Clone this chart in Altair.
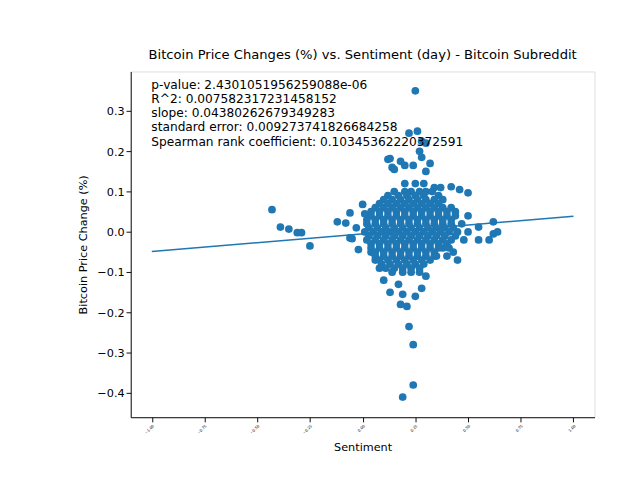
import altair as alt
import pandas as pd

# outlying points (sentiment, price change)
outer_x = [-0.43, -0.39, -0.35, -0.31, -0.29, -0.25, -0.12, -0.08, -0.06, -0.06, -0.05, -0.03, -0.02, 0.0, 0.01,
           0.12, 0.13, 0.14, 0.15, 0.18, 0.2, 0.22, 0.25, 0.26, 0.27, 0.28, 0.3, 0.28, 0.32, 0.3, 0.24,
           0.34, 0.37, 0.42, 0.46, 0.5, 0.44, 0.5, 0.55, 0.6, 0.62, 0.62, 0.64, 0.55, 0.45, 0.43, 0.4,
           0.13, 0.17, 0.19, 0.18, 0.21, 0.22, 0.24, 0.24, 0.19, 0.25, 0.28, 0.3, 0.1, 0.08, 0.06, 0.04, 0.35, 0.38]
outer_y = [0.055, 0.012, 0.007, -0.002, -0.002, -0.035, 0.025, 0.022, 0.047, -0.015, -0.017, 0.010, -0.044, 0.068, 0.045,
           0.18, 0.182, 0.16, 0.155, 0.175, 0.165, 0.245, 0.35, 0.25, 0.2, 0.225, 0.22, 0.185, 0.17, 0.15, 0.165,
           0.11, 0.11, 0.112, 0.105, 0.097, 0.05, 0.04, 0.012, -0.02, 0.025, -0.005, 0.0, -0.02, -0.07, -0.05, -0.06,
           -0.15, -0.13, -0.155, -0.18, -0.185, -0.235, -0.28, -0.38, -0.41, -0.16, -0.14, -0.11, -0.12, -0.09, -0.07, -0.05, -0.06, -0.04]

# dense core, row by row
core_rows = {
    0.12: [0.2, 0.25, 0.29],
    0.10: [0.15, 0.2, 0.23, 0.27, 0.3, 0.33],
    0.09: [0.12, 0.17, 0.21, 0.25, 0.29, 0.36],
    0.08: [0.1, 0.14, 0.18, 0.22, 0.26, 0.3, 0.34, 0.38],
    0.07: [0.08, 0.12, 0.16, 0.2, 0.24, 0.28, 0.32, 0.36],
    0.06: [0.06, 0.1, 0.14, 0.18, 0.22, 0.26, 0.3, 0.34, 0.38, 0.42],
    0.05: [0.04, 0.08, 0.12, 0.16, 0.2, 0.24, 0.28, 0.32, 0.36, 0.4],
    0.04: [0.04, 0.08, 0.12, 0.16, 0.2, 0.24, 0.28, 0.32, 0.36, 0.4, 0.44],
    0.03: [0.02, 0.06, 0.1, 0.14, 0.18, 0.22, 0.26, 0.3, 0.34, 0.38, 0.42],
    0.02: [0.02, 0.06, 0.1, 0.14, 0.18, 0.22, 0.26, 0.3, 0.34, 0.38, 0.42, 0.47],
    0.01: [0.03, 0.07, 0.11, 0.15, 0.19, 0.23, 0.27, 0.31, 0.35, 0.39, 0.43],
    0.00: [0.01, 0.05, 0.09, 0.13, 0.17, 0.21, 0.25, 0.29, 0.33, 0.37, 0.41, 0.45, 0.5],
    -0.01: [0.03, 0.07, 0.11, 0.15, 0.19, 0.23, 0.27, 0.31, 0.35, 0.39, 0.44],
    -0.02: [0.02, 0.06, 0.1, 0.14, 0.18, 0.22, 0.26, 0.3, 0.34, 0.38, 0.42, 0.48],
    -0.03: [0.04, 0.08, 0.12, 0.16, 0.2, 0.24, 0.28, 0.32, 0.36, 0.4],
    -0.04: [0.04, 0.08, 0.12, 0.16, 0.2, 0.24, 0.28, 0.32, 0.36, 0.41],
    -0.05: [0.06, 0.1, 0.14, 0.18, 0.22, 0.26, 0.3, 0.34],
    -0.06: [0.06, 0.1, 0.14, 0.18, 0.22, 0.26, 0.3, 0.34],
    -0.07: [0.08, 0.12, 0.16, 0.2, 0.24, 0.28, 0.32],
    -0.08: [0.09, 0.13, 0.17, 0.21, 0.25, 0.29],
    -0.09: [0.11, 0.15, 0.19, 0.23, 0.27],
    -0.10: [0.14, 0.19, 0.23, 0.27],
}

line_x = [-1.0, 1.0]
line_y = [-0.0488, 0.0388]

stats = [
    "p-value: 2.4301051956259088e-06",
    "R^2: 0.007582317231458152",
    "slope: 0.04380262679349283",
    "standard error: 0.009273741826684258",
    "Spearman rank coefficient: 0.10345362220372591",
]

xs = list(outer_x)
ys = list(outer_y)
for yv, row in core_rows.items():
    xs += row
    ys += [yv] * len(row)
pts = pd.DataFrame({"sentiment": xs, "change": ys})
fit = pd.DataFrame({"sentiment": line_x, "change": line_y})
txt = pd.DataFrame({"t": stats, "py": [15 + 15 * i for i in range(len(stats))]})

xsc = alt.Scale(domain=[-1.1, 1.1], nice=False, zero=False)
ysc = alt.Scale(domain=[-0.46, 0.398], nice=False, zero=False)
xax = alt.Axis(values=[-1.0, -0.75, -0.5, -0.25, 0.0, 0.25, 0.5, 0.75, 1.0], format=".2f", labelAngle=-45,
               labelFontSize=4, grid=False, titleFontSize=12, titleFontWeight="normal", tickColor="black",
               domainColor="black", labelColor="black", titlePadding=8)
yax = alt.Axis(values=[-0.4, -0.3, -0.2, -0.1, 0.0, 0.1, 0.2, 0.3], format=".1f", grid=False, labelFontSize=12,
               titleFontSize=12, titleFontWeight="normal", tickColor="black", domainColor="black",
               labelColor="black", titlePadding=8)

scatter = alt.Chart(pts).mark_circle(size=68, opacity=1, color="#1f77b4").encode(
    x=alt.X("sentiment:Q", scale=xsc, axis=xax, title="Sentiment"),
    y=alt.Y("change:Q", scale=ysc, axis=yax, title="Bitcoin Price Change (%)"),
)
line = alt.Chart(fit).mark_line(color="#1f77b4", strokeWidth=1.5).encode(
    x=alt.X("sentiment:Q", scale=xsc), y=alt.Y("change:Q", scale=ysc)
)
text = alt.Chart(txt).mark_text(align="left", baseline="middle", fontSize=13, color="black").encode(
    x=alt.value(22), y=alt.Y("py:Q", scale=None), text="t:N"
)

chart = (scatter + line + text).properties(
    width=495, height=369,
    title=alt.Title("Bitcoin Price Changes (%) vs. Sentiment (day) - Bitcoin Subreddit", fontSize=14,
                    fontWeight="normal", offset=10),
    padding={"left": 73, "top": 28, "right": 40, "bottom": 10},
).configure_view(stroke="black").configure(font="DejaVu Sans")

chart.save("out.html", embed_options={"renderer": "svg", "actions": False})
